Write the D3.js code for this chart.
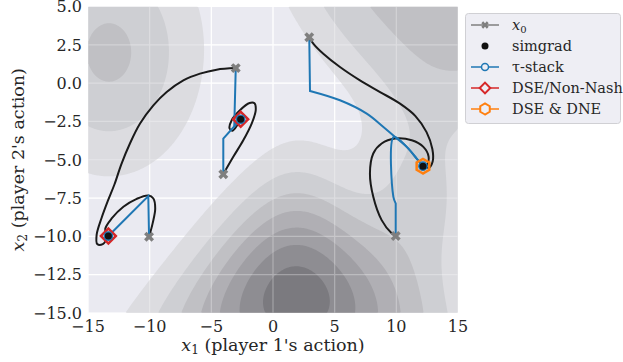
<!DOCTYPE html>
<html>
<head>
<meta charset="utf-8">
<script src="https://cdn.jsdelivr.net/npm/d3@7"></script>
<style>
  body { margin: 0; background: #fff; }
  svg { display: block; font-family: "DejaVu Serif", serif; }
</style>
</head>
<body>
<svg id="chart" width="623" height="362"></svg>
<script>
// ---- data ----
const xTicks = [-15, -10, -5, 0, 5, 10, 15]
const yTicks = [-15, -12.5, -10, -7.5, -5, -2.5, 0, 2.5, 5]

// background cost surface: gaussian bumps + a soft plateau in the top right
const bumpCx = [1.8, -13.3, 12]
const bumpCy = [-14, 2, -8]
const bumpSx = [6.35, 5, 3.5]
const bumpSy = [4.95, 5.3, 4.5]
const bumpShrink = [0.075, 0, 0]
const bumpAmp = [7.6, 3.2, 2.2]
const plateauCenter = [17, 15]
const plateauR0 = 16.84, plateauWidth = 1.87, plateauAmp = 3.5
const levels = [1, 2, 3, 4, 5, 6, 7]
const levelColors = ['#dcdce0', '#cecfd3', '#c0c0c4', '#b0afb4', '#a09fa4', '#8e8d92', '#7b7a7f']

const x0Points = [[-3.02, 0.98], [2.94, 3.0], [-10.05, -10.03], [-4.03, -5.94], [9.95, -9.98]]
const equilibria = [[-13.35, -9.98], [-2.62, -2.36], [12.16, -5.42]]
const dseNonNash = [[-13.35, -9.98], [-2.62, -2.36]]
const dseDne = [[12.16, -5.42]]

// simgrad trajectories
const simgrad1 = [[-3.02, 0.98], [-4.57, 0.88], [-5.92, 0.62], [-7.27, 0.18], [-8.62, -0.58], [-9.7, -1.45],
    [-10.78, -2.64], [-11.6, -3.94], [-12.3, -5.3], [-12.85, -6.6], [-13.4, -7.7], [-13.9, -8.8],
    [-14.3, -9.9], [-14.25, -10.5], [-13.8, -10.5], [-13.35, -9.98]]
const simgrad2 = [[-10.05, -10.03], [-9.76, -9.15], [-9.55, -8.18], [-9.7, -7.53], [-10.11, -7.33],
    [-11.05, -7.55], [-12.13, -8.07], [-13.08, -8.83], [-13.6, -9.5], [-13.5, -9.9], [-13.35, -9.98]]
const simgrad3 = [[-4.03, -5.94], [-3.22, -4.81], [-2.41, -3.73], [-1.73, -2.64], [-1.4, -1.77], [-1.5, -1.32],
    [-1.9, -1.3], [-2.68, -1.77], [-3.35, -2.42], [-3.52, -2.96], [-3.28, -3.1], [-2.9, -2.75], [-2.62, -2.36]]
const simgrad4 = [[2.94, 3.0], [3.3, 2.55], [4.08, 1.92], [5.43, 1.05], [7.05, 0.18], [8.68, -0.58], [10.3, -1.34],
    [11.55, -2.15], [12.45, -3.2], [12.92, -4.3], [12.95, -5.1], [12.65, -5.52], [12.16, -5.42]]
const simgrad5 = [[9.95, -9.98], [9.62, -9.8], [8.81, -8.94], [8.13, -7.42], [7.86, -5.9], [8.13, -4.59],
    [8.81, -3.94], [9.89, -3.62], [11.25, -3.73], [12.19, -4.16], [12.62, -4.81], [12.46, -5.36], [12.16, -5.42]]

// tau-stack paths
const stack1 = [[-3.02, 0.98], [-3.14, -2.78], [-2.62, -2.36]]
const stack2 = [[-4.03, -5.94], [-4.03, -3.62], [-2.62, -2.36]]
const stack3 = [[-10.05, -10.03], [-10.11, -7.37], [-13.35, -9.98]]
const stack4 = [[2.94, 3.0], [3.0, -0.51], [5.43, -1.12], [7.6, -1.99], [8.95, -2.86], [9.89, -3.51],
    [10.84, -4.16], [11.65, -4.92], [12.16, -5.42]]
const stack5 = [[9.95, -9.98], [9.95, -7.85], [9.76, -7.42], [9.8, -3.5], [10.84, -4.16], [11.65, -4.92], [12.16, -5.42]]

const legendLabels = ['x0', 'simgrad', 'τ-stack', 'DSE/Non-Nash', 'DSE & DNE']

// ---- layout ----
const plot = { left: 88, right: 458, top: 6.5, bottom: 313 }
const blue = '#1f77b4', red = '#d62728', orange = '#ff7f0e', grey = '#7f7f7f', ink = '#262626'

const svg = d3.select('#chart')
const x = d3.scaleLinear().domain([-15, 15]).range([plot.left, plot.right])
const y = d3.scaleLinear().domain([-15, 5]).range([plot.bottom, plot.top])

const field = (px, py) => {
    let v = 0
    for (let k = 0; k < bumpCx.length; k++) {
        const dy = py - bumpCy[k]
        const sx = bumpSx[k] * Math.exp(-bumpShrink[k] * dy)
        const dx = px - bumpCx[k]
        v += bumpAmp[k] * Math.exp(-0.5 * (dx * dx / (sx * sx) + dy * dy / (bumpSy[k] * bumpSy[k])))
    }
    const r = Math.hypot(px - plateauCenter[0], py - plateauCenter[1])
    v += plateauAmp / (1 + Math.exp(-(plateauR0 - r) / plateauWidth))
    return v
}

svg.append('defs').append('clipPath').attr('id', 'clip')
    .append('rect')
    .attr('x', plot.left).attr('y', plot.top)
    .attr('width', plot.right - plot.left).attr('height', plot.bottom - plot.top)

const chart = svg.append('g')

chart.append('rect')
    .attr('x', plot.left).attr('y', plot.top)
    .attr('width', plot.right - plot.left).attr('height', plot.bottom - plot.top)
    .attr('fill', '#eaeaf1')

const drawGrid = (opacity) => {
    const g = chart.append('g').attr('stroke', '#fff').attr('stroke-width', 1.2).attr('opacity', opacity)
    g.selectAll('.gx').data(xTicks).join('line')
        .attr('x1', d => x(d)).attr('x2', d => x(d))
        .attr('y1', plot.top).attr('y2', plot.bottom)
    g.selectAll('.gy').data(yTicks).join('line')
        .attr('y1', d => y(d)).attr('y2', d => y(d))
        .attr('x1', plot.left).attr('x2', plot.right)
}
drawGrid(1)

// filled contours
const n = 300, m = 200
const values = new Array(n * m)
for (let j = 0; j < m; j++) {
    for (let i = 0; i < n; i++) {
        const gx = -15 + (i + 0.5) * 30 / n
        const gy = 5 - (j + 0.5) * 20 / m
        values[i + j * n] = field(gx, gy)
    }
}
const contours = d3.contours().size([n, m]).thresholds(levels)(values)
const toPx = d3.geoTransform({
    point: function (gx, gy) {
        this.stream.point(x(-15 + gx * 30 / n), y(5 - gy * 20 / m))
    }
})
chart.append('g').attr('clip-path', 'url(#clip)')
    .selectAll('path').data(contours).join('path')
    .attr('d', d3.geoPath(toPx))
    .attr('fill', (d, i) => levelColors[i])

drawGrid(0.3)

// trajectories
const line = d3.line().x(d => x(d[0])).y(d => y(d[1]))
const smooth = d3.line().x(d => x(d[0])).y(d => y(d[1])).curve(d3.curveCatmullRom.alpha(0.5))

chart.append('g').attr('fill', 'none').attr('stroke', '#1a1a1a').attr('stroke-width', 2)
    .selectAll('path').data([simgrad1, simgrad2, simgrad3, simgrad4, simgrad5]).join('path')
    .attr('d', smooth)

chart.append('g').attr('fill', 'none').attr('stroke', blue).attr('stroke-width', 2)
    .selectAll('path').data([stack1, stack2, stack3]).join('path')
    .attr('d', line)
// the last two paths start with a straight leg, then bend into the equilibrium
chart.append('g').attr('fill', 'none').attr('stroke', blue).attr('stroke-width', 2)
    .selectAll('path').data([stack4, stack5]).join('path')
    .attr('d', d => 'M' + x(d[0][0]) + ',' + y(d[0][1]) + 'L' + smooth(d.slice(1)).slice(1))

// markers
const xSym = size => d3.symbol(d3.symbolCross, size)()
const hexD = r => 'M' + d3.range(6).map(k => {
    const a = Math.PI / 2 + k * Math.PI / 3
    return [r * Math.cos(a), r * Math.sin(a)].join(',')
}).join('L') + 'Z'

chart.append('g').selectAll('path').data(x0Points).join('path')
    .attr('d', xSym(62))
    .attr('transform', d => `translate(${x(d[0])},${y(d[1])}) rotate(45)`)
    .attr('fill', grey)

chart.append('g').selectAll('path').data(dseNonNash).join('path')
    .attr('d', d3.symbol(d3.symbolSquare, 112)())
    .attr('transform', d => `translate(${x(d[0])},${y(d[1])}) rotate(45)`)
    .attr('fill', 'none').attr('stroke', red).attr('stroke-width', 2.5)

chart.append('g').selectAll('path').data(dseDne).join('path')
    .attr('d', hexD(7.3))
    .attr('transform', d => `translate(${x(d[0])},${y(d[1])})`)
    .attr('fill', 'none').attr('stroke', orange).attr('stroke-width', 2.5)

chart.append('g').selectAll('circle').data(equilibria).join('circle')
    .attr('cx', d => x(d[0])).attr('cy', d => y(d[1])).attr('r', 4.2)
    .attr('fill', '#111').attr('stroke', blue).attr('stroke-width', 1.3)

// tick labels
const tickFont = 16
svg.append('g').selectAll('text').data(xTicks).join('text')
    .attr('x', d => x(d)).attr('y', 332)
    .attr('text-anchor', 'middle').attr('font-size', tickFont).attr('fill', ink)
    .text(d => d3.format('')(d).replace('-', '−'))
svg.append('g').selectAll('text').data(yTicks).join('text')
    .attr('x', 82).attr('y', d => y(d) + 5.8)
    .attr('text-anchor', 'end').attr('font-size', tickFont).attr('fill', ink)
    .text(d => d3.format('.1f')(d).replace('-', '−'))

// axis labels
const xl = svg.append('text').attr('x', 273).attr('y', 351)
    .attr('text-anchor', 'middle').attr('font-size', 17.5).attr('fill', ink)
xl.append('tspan').attr('font-style', 'italic').text('x')
xl.append('tspan').attr('font-size', 12).attr('dy', 3).text('1')
xl.append('tspan').attr('dy', -3).text(' (player 1\'s action)')

const yl = svg.append('text').attr('transform', `translate(24,${(plot.top + plot.bottom) / 2}) rotate(-90)`)
    .attr('text-anchor', 'middle').attr('font-size', 17.5).attr('fill', ink)
yl.append('tspan').attr('font-style', 'italic').text('x')
yl.append('tspan').attr('font-size', 12).attr('dy', 3).text('2')
yl.append('tspan').attr('dy', -3).text(' (player 2\'s action)')

// legend
const lg = svg.append('g')
lg.append('rect').attr('x', 465.5).attr('y', 13.5).attr('width', 155).attr('height', 110).attr('rx', 3)
    .attr('fill', '#eeeef4').attr('stroke', '#d0d0d4')
const rowY = i => 25 + i * 21
const hx = 485
const handleColors = [grey, null, blue, red, orange]
handleColors.forEach((c, i) => {
    if (c) lg.append('line').attr('x1', 471).attr('x2', 499).attr('y1', rowY(i)).attr('y2', rowY(i))
        .attr('stroke', c).attr('stroke-width', 1.5)
})
lg.append('path').attr('d', xSym(34)).attr('transform', `translate(${hx},${rowY(0)}) rotate(45)`).attr('fill', grey)
lg.append('circle').attr('cx', hx).attr('cy', rowY(1)).attr('r', 3.5).attr('fill', '#111')
lg.append('circle').attr('cx', hx).attr('cy', rowY(2)).attr('r', 3.5).attr('fill', '#eeeef4').attr('stroke', blue).attr('stroke-width', 1.5)
lg.append('path').attr('d', d3.symbol(d3.symbolSquare, 56)()).attr('transform', `translate(${hx},${rowY(3)}) rotate(45)`)
    .attr('fill', '#eeeef4').attr('stroke', red).attr('stroke-width', 2)
lg.append('path').attr('d', hexD(5.5)).attr('transform', `translate(${hx},${rowY(4)})`)
    .attr('fill', '#eeeef4').attr('stroke', orange).attr('stroke-width', 2)

legendLabels.forEach((t, i) => {
    const tx = lg.append('text').attr('x', 512).attr('y', rowY(i) + 5).attr('font-size', 14.5).attr('fill', ink)
    if (t === 'x0') {
        tx.append('tspan').attr('font-style', 'italic').text('x')
        tx.append('tspan').attr('font-size', 10).attr('dy', 3).text('0')
    } else tx.text(t)
})
</script>
</body>
</html>
